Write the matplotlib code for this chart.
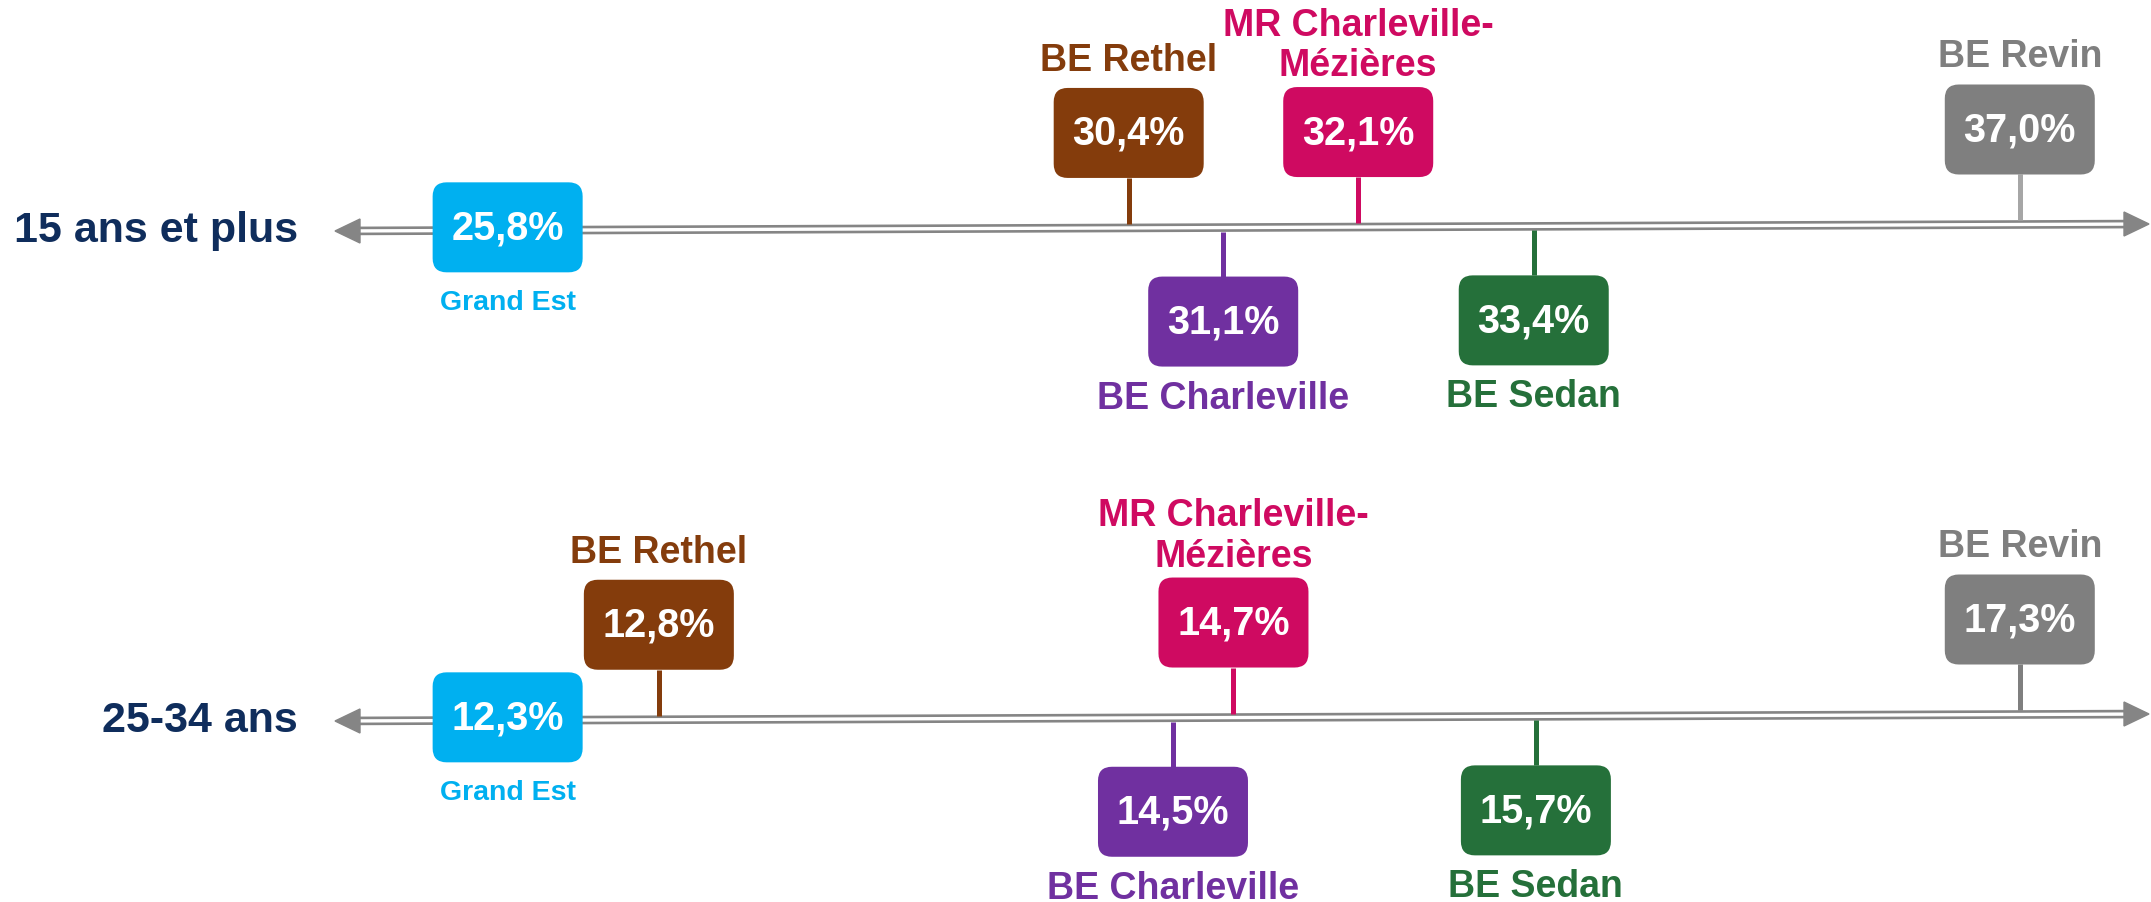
import numpy as np
import matplotlib
matplotlib.use('Agg')
import matplotlib.pyplot as plt
from matplotlib.patches import FancyBboxPatch, Polygon
from matplotlib.transforms import blended_transform_factory

plt.rcParams['font.family'] = ['Liberation Sans', 'DejaVu Sans']
plt.rcParams['font.weight'] = 'bold'

# data
row_labels = ['15 ans et plus', '25-34 ans']
places = ['Grand Est', 'BE Rethel', 'MR Charleville-\nMézières',
          'BE Charleville', 'BE Sedan', 'BE Revin']
vals_15 = [25.8, 30.4, 32.1, 31.1, 33.4, 37.0]
vals_25 = [12.3, 12.8, 14.7, 14.5, 15.7, 17.3]
colors_ = ['#00b0f0', '#843c0c', '#cf0a61', '#7030a0', '#25703a', '#7f7f7f']
side = [0, -1, -1, 1, 1, -1]          # 0 = on axis, -1 = above, 1 = below
stem_revin = ['#a6a6a6', '#7f7f7f']

W, H = 2151, 903
line_left = [232, 722]                # y (px) of the axis at its left end
tilt = -7                             # px drop over the full axis length
x_tip_l, x_tip_r = 335 / W, 2149 / W
navy = '#0f2d5c'
grey = '#858585'

fig = plt.figure(figsize=(W / 100, H / 100), dpi=100)

for r, vals in enumerate([vals_15, vals_25]):
    ax = fig.add_axes([0, 0, 1, 1])
    ax.axis('off')
    ge, top = vals[0], max(vals)
    span = (top - ge) / (0.939 - 0.236)
    lo = ge - 0.236 * span
    ax.set_xlim(lo, lo + span)
    ax.set_ylim(H, 0)
    bt = blended_transform_factory(ax.transAxes, ax.transData)
    px = span / W                     # value units per pixel

    def line_y(f):
        return line_left[r] + tilt * (f - x_tip_l) / (x_tip_r - x_tip_l)

    # double axis line with arrow heads
    f0, f1 = x_tip_l + 20 / W, x_tip_r - 20 / W
    for dy in (-3, 3):
        ax.plot([f0, f1], [line_y(f0) + dy, line_y(f1) + dy], color=grey,
                lw=1.9, transform=bt, zorder=1, solid_capstyle='butt')
    for tip, base in ((x_tip_l, x_tip_l + 25 / W), (x_tip_r, x_tip_r - 25 / W)):
        yt = line_y(tip)
        ax.add_patch(Polygon([[tip, yt], [base, yt - 12], [base, yt + 12]],
                             closed=True, color=grey, transform=bt, zorder=1))

    ax.text(298 / W, line_y(x_tip_l) - 1, row_labels[r], transform=bt,
            ha='right', va='center', fontsize=31, color=navy)

    bw, bh = 150 * px, 90
    for i, v in enumerate(vals):
        f = (v - lo) / span
        yl = line_y(f)
        if side[i] == 0:
            y_top = yl - 3 - bh / 2
            lab_y = yl + 72
        elif side[i] < 0:
            y_top = yl - 140
            lab_y = yl - 168
            scol = stem_revin[r] if i == 5 else colors_[i]
            ax.plot([v, v], [y_top + bh, yl - 4], color=scol, lw=3.6,
                    zorder=2, solid_capstyle='butt')
        else:
            y_top = yl + 49
            lab_y = yl + 170
            ax.plot([v, v], [yl + 4, y_top], color=colors_[i], lw=3.6,
                    zorder=2, solid_capstyle='butt')
        ax.add_patch(FancyBboxPatch((v - bw / 2, y_top), bw, bh,
                                    boxstyle='round,pad=0,rounding_size=%f' % (14 * px),
                                    mutation_aspect=1 / px,
                                    fc=colors_[i], ec='none', zorder=3))
        ax.text(v, y_top + bh / 2, ('%.1f%%' % v).replace('.', ','),
                ha='center', va='center', fontsize=28.5, color='white', zorder=4)
        if '\n' in places[i]:
            lab_y = yl - 182
        ax.text(v, lab_y, places[i], ha='center', va='center',
                fontsize=20.5 if i == 0 else 27, color=colors_[i],
                linespacing=1.15)

fig.savefig('out.png', dpi=100, facecolor='white')
